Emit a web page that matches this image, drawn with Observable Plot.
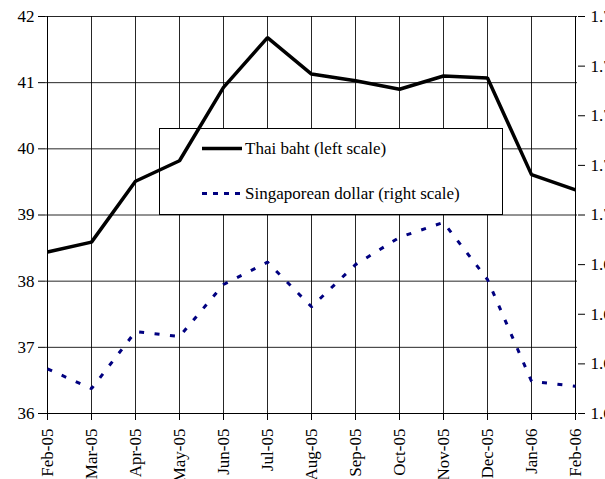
<!DOCTYPE html>
<html><head><meta charset="utf-8">
<script src="https://cdn.jsdelivr.net/npm/d3@7"></script>
<script src="https://cdn.jsdelivr.net/npm/@observablehq/plot@0.6"></script>
<style>
html,body{margin:0;padding:0;background:#fff;overflow:hidden;}
#chart{position:relative;width:605px;height:479px;overflow:hidden;}
</style></head><body><div id="chart"></div>
<script>
const months = ["Feb-05","Mar-05","Apr-05","May-05","Jun-05","Jul-05","Aug-05","Sep-05","Oct-05","Nov-05","Dec-05","Jan-06","Feb-06"];
const thaiBaht = [38.44,38.59,39.51,39.82,40.93,41.68,41.13,41.03,40.90,41.10,41.07,39.61,39.38];
const singaporeDollar = [1.638,1.630,1.653,1.651,1.672,1.681,1.663,1.680,1.691,1.697,1.674,1.633,1.631];
const leftTicks = [36,37,38,39,40,41,42];
const rightTicks = [1.62,1.64,1.66,1.68,1.70,1.72,1.74,1.76,1.78];
const seriesNames = ["Thai baht (left scale)","Singaporean dollar (right scale)"];

const leftDomain = [36,42];
const rightDomain = [1.62,1.78];
const toLeft = v => leftDomain[0] + (v - rightDomain[0]) / (rightDomain[1] - rightDomain[0]) * (leftDomain[1] - leftDomain[0]);

const thaiData = months.map((m,i) => ({month:m, value:thaiBaht[i]}));
const sgdData = months.map((m,i) => ({month:m, value:toLeft(singaporeDollar[i])}));

const FONT = "'Liberation Serif','Times New Roman',serif";

const plot = Plot.plot({
  width: 605, height: 479,
  marginLeft: 45, marginRight: 28, marginTop: 16, marginBottom: 66,
  style: {fontFamily: FONT, fontSize: "17px", background: "#fff", color: "#000"},
  x: {type: "point", domain: months, padding: 0, label: null},
  y: {domain: leftDomain, label: null},
  marks: [
    Plot.gridY(leftTicks, {stroke: "#000", strokeOpacity: 0.85, strokeWidth: 1}),
    Plot.gridX(months, {stroke: "#000", strokeOpacity: 0.85, strokeWidth: 1}),
    Plot.axisY(leftTicks, {anchor: "left", tickSize: 7, tickPadding: 4, tickFormat: d => String(d), fontSize: 17, label: null}),
    Plot.axisY(rightTicks.map(toLeft), {anchor: "right", tickSize: 7, tickPadding: 6, tickFormat: (d,i) => rightTicks[i].toFixed(2), fontSize: 17, label: null}),
    Plot.axisX(months, {anchor: "bottom", tickSize: 7, tickPadding: 8, tickRotate: -90, fontSize: 17, label: null}),
    Plot.ruleX([months[0], months[months.length-1]], {stroke: "#000", strokeWidth: 1}),
    Plot.ruleY([leftDomain[0]], {stroke: "#000", strokeWidth: 1}),
    Plot.line(sgdData, {x: "month", y: "value", stroke: "#000080", strokeWidth: 3, strokeDasharray: "5,10.5", strokeLinejoin: "miter", strokeLinecap: "butt"}),
    Plot.line(thaiData, {x: "month", y: "value", stroke: "#000", strokeWidth: 3.5, strokeLinejoin: "miter", strokeLinecap: "butt"})
  ]
});

document.getElementById("chart").appendChild(plot);

// Legend box (drawn beneath the data lines, as in the reference)
const firstLine = plot.querySelector('g[aria-label="line"]');
const lg = document.createElementNS("http://www.w3.org/2000/svg", "g");
plot.insertBefore(lg, firstLine);
const L = d3.select(lg).attr("text-anchor", "start");
L.append("rect").attr("x", 159.5).attr("y", 128.5).attr("width", 343).attr("height", 86)
  .attr("fill", "#fff").attr("stroke", "#000").attr("stroke-width", 1);
const rows = [
  {name: seriesNames[0], y: 148.5, stroke: "#000", width: 3.5, dash: null},
  {name: seriesNames[1], y: 193.5, stroke: "#000080", width: 3, dash: "5,6"}
];
rows.forEach(r => {
  const ln = L.append("line").attr("x1", 202).attr("x2", 242).attr("y1", r.y).attr("y2", r.y)
    .attr("stroke", r.stroke).attr("stroke-width", r.width);
  if (r.dash) ln.attr("stroke-dasharray", r.dash);
  L.append("text").attr("x", 245).attr("y", r.y).attr("dy", "0.35em").attr("text-anchor", "start")
    .attr("font-family", FONT).attr("font-size", 17).attr("fill", "#000").text(r.name);
});
</script></body></html>
